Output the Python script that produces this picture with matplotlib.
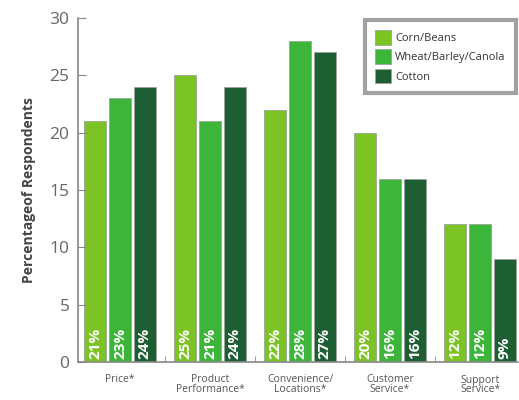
import numpy as np
import matplotlib
matplotlib.use("Agg")
import matplotlib.pyplot as plt
from matplotlib.ticker import FixedLocator

plt.rcParams['font.family'] = ['Open Sans', 'DejaVu Sans']

# Survey results by reason, per crop group
categories = ["Price*", "Product\nPerformance*", "Convenience/\nLocations*",
              "Customer\nService*", "Support\nService*"]
corn_beans = [21, 25, 22, 20, 12]
wheat_barley_canola = [23, 21, 28, 16, 12]
cotton = [24, 24, 27, 16, 9]
series_names = ["Corn/Beans", "Wheat/Barley/Canola", "Cotton"]
colors = ["#7cc424", "#3db43a", "#1d5e32"]

fig = plt.figure(figsize=(5.19, 4.0), dpi=100)
ax = fig.add_axes([0.150, 0.095, 0.848, 0.860])

x = np.arange(len(categories))
step = 0.275
width = 0.245
for i, (vals, name, col) in enumerate(zip([corn_beans, wheat_barley_canola, cotton],
                                          series_names, colors)):
    pos = x + (i - 1) * step
    ax.bar(pos, vals, width, color=col, label=name, edgecolor="#9aa59a", linewidth=0.6)
    for p, v in zip(pos, vals):
        ax.text(p, 0.3, f"{v}%", rotation=90, ha="center", va="bottom",
                color="white", fontsize=11, fontweight="bold")

ax.set_ylim(0, 30)
ax.set_xlim(-0.467, 4.42)
ax.set_yticks(range(0, 31, 5))
ax.set_xticks(x)
ax.set_xticklabels(categories, fontsize=7.5, color="#555555", linespacing=0.85)
ax.xaxis.set_minor_locator(FixedLocator(x[:-1] + 0.5))
ax.tick_params(axis="x", which="major", length=0, pad=9)
ax.tick_params(axis="x", which="minor", direction="in", length=4, color="#888888")
ax.tick_params(axis="y", direction="in", length=6, color="#888888",
               labelsize=12.5, labelcolor="#666666", pad=6)

for s in ["top", "right"]:
    ax.spines[s].set_visible(False)
for s in ["left", "bottom"]:
    ax.spines[s].set_color("#888888")
    ax.spines[s].set_linewidth(1.2)

ax.set_ylabel("Percentageof Respondents", fontsize=10, fontweight="bold",
              color="#444444", labelpad=10)

leg = ax.legend(loc="upper right", bbox_to_anchor=(1.0, 1.0), fontsize=8,
                frameon=True, fancybox=False, edgecolor="#8a8a8a",
                handlelength=1.5, handleheight=1.6, borderpad=0.9,
                labelspacing=0.45, handletextpad=0.35, borderaxespad=0.2)
leg.get_frame().set_linewidth(3)
for t in leg.get_texts():
    t.set_color("#333333")

fig.savefig("out.png", dpi=100)
